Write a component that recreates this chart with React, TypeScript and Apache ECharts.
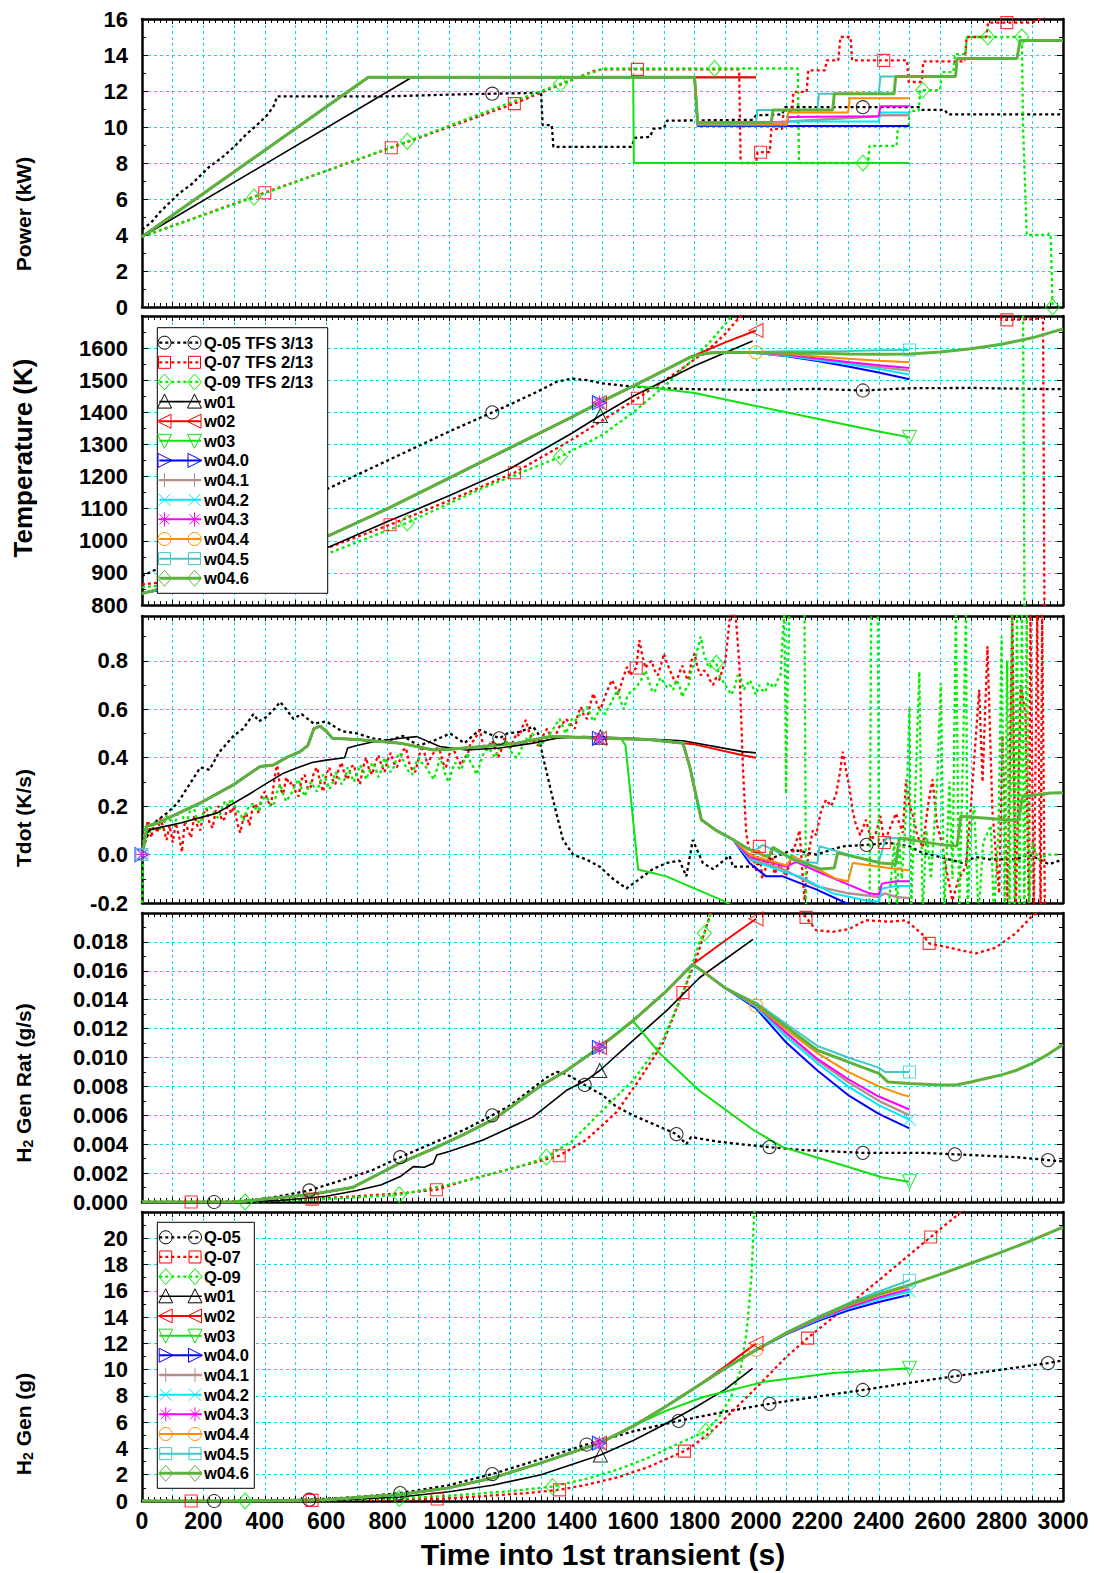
import React, { useEffect, useRef } from 'react';
import * as echarts from 'echarts';

const FONT = '"Liberation Sans", Arial, Helvetica, sans-serif';

// ---------------- series names & legend labels ----------------
const NAMES = ['Q-05', 'Q-07', 'Q-09', 'w01', 'w02', 'w03', 'w04.0', 'w04.1', 'w04.2', 'w04.3', 'w04.4', 'w04.5', 'w04.6'];
const LEGEND_TOP_LABELS = ['Q-05 TFS 3/13', 'Q-07 TFS 2/13', 'Q-09 TFS 2/13', 'w01', 'w02', 'w03', 'w04.0', 'w04.1', 'w04.2', 'w04.3', 'w04.4', 'w04.5', 'w04.6'];
const LEGEND_BOTTOM_LABELS = ['Q-05', 'Q-07', 'Q-09', 'w01', 'w02', 'w03', 'w04.0', 'w04.1', 'w04.2', 'w04.3', 'w04.4', 'w04.5', 'w04.6'];

// ---------------- x axis ----------------
const X_MIN = 0;
const X_MAX = 3000;
const X_STEP = 100;
const X_LABEL_STEP = 200;
const X_TITLE = 'Time into 1st transient (s)';

// ---------------- Panel 1: Power (kW) ----------------
const pwr_Q05 = [[0,4.3],[30,4.7],[60,5.3],[90,5.8],[120,6.3],[160,6.8],[190,7.3],[220,7.8],[260,8.3],[300,8.9],[340,9.6],[380,10.2],[410,10.7],[430,11.2],[440,11.7],[800,11.7],[1000,11.8],[1141,11.85],[1300,11.9],[1305,10.1],[1335,10.1],[1340,8.9],[1595,8.9],[1605,9.4],[1655,9.45],[1665,9.9],[1700,9.95],[1710,10.35],[1990,10.4],[2000,10.65],[2085,10.7],[2095,11.1],[2348,11.1],[2530,11.1],[2540,10.95],[2615,10.95],[2625,10.7],[3000,10.7]];
const pwr_Q07 = [[0,3.9],[400,6.35],[812,8.85],[1213,11.3],[1426,12.8],[1470,13.1],[1500,13.2],[1614,13.2],[1945,13.2],[1950,8.0],[2000,8.0],[2005,8.6],[2015,8.6],[2045,8.6],[2050,9.9],[2085,9.9],[2090,10.9],[2118,10.9],[2122,11.95],[2165,11.95],[2170,13.15],[2225,13.15],[2230,13.7],[2268,13.7],[2275,15.0],[2308,15.0],[2313,13.7],[2416,13.7],[2492,13.7],[2497,12.5],[2540,12.5],[2545,13.65],[2680,13.65],[2686,15.0],[2750,15.0],[2756,15.8],[2817,15.8],[2900,15.8],[2950,16.2]];
const pwr_Q09 = [[0,3.9],[365,6.1],[864,9.2],[1363,12.4],[1426,12.8],[1480,13.1],[1500,13.25],[1865,13.25],[2136,13.25],[2140,8.0],[2348,8.0],[2365,8.0],[2370,8.95],[2458,8.95],[2462,10.0],[2497,10.0],[2500,10.9],[2530,10.9],[2535,12.05],[2543,12.05],[2600,12.05],[2605,13.05],[2643,13.05],[2648,14.05],[2682,14.05],[2687,15.0],[2755,15.0],[2866,15.0],[2870,10.0],[2882,4.0],[2950,4.0],[2955,4.1],[2960,3.9],[2966,0]];
const pwr_w01 = [[0,3.9],[878,12.75],[2000,12.75]];
const pwr_common = [[0,3.9],[737,12.76]];
const pwr_w02_tail = [[2000,12.76]];
const pwr_w03_tail = [[1600,12.76],[1602,8.0],[2500,8.0]];
const pwr_w040_tail = [[1800,12.76],[1810,10.05],[2500,10.05]];
const pwr_w041_tail = [[1800,12.76],[1810,10.2],[2050,10.25],[2400,10.6],[2410,10.65],[2500,10.65]];
const pwr_w042_tail = [[1800,12.76],[1810,10.1],[2100,10.1],[2105,10.3],[2400,10.3],[2405,10.8],[2500,10.8]];
const pwr_w043_tail = [[1800,12.76],[1810,10.12],[2100,10.12],[2105,10.55],[2400,10.6],[2405,11.15],[2500,11.15]];
const pwr_w044_tail = [[1800,12.76],[1810,10.15],[2100,10.15],[2105,10.8],[2300,10.8],[2305,11.6],[2500,11.6]];
const pwr_w045_tail = [[1800,12.76],[1810,10.2],[2000,10.2],[2005,10.95],[2200,10.95],[2205,11.85],[2400,11.85],[2405,12.8],[2500,12.8]];
const pwr_w046_tail = [[1800,12.76],[1810,10.25],[2050,10.25],[2055,10.95],[2250,10.95],[2255,11.85],[2450,11.85],[2455,12.8],[2650,12.8],[2655,13.8],[2850,13.8],[2860,14.8],[3000,14.8]];

// ---------------- Panel 2: Temperature (K) ----------------
const tmp_Q05 = [[0,890],[100,935],[200,980],[300,1025],[400,1070],[500,1115],[600,1160],[700,1205],[800,1250],[900,1295],[1000,1340],[1141,1400],[1200,1425],[1300,1470],[1350,1495],[1400,1505],[1450,1500],[1500,1490],[1600,1480],[1700,1475],[1800,1472],[2000,1470],[2200,1473],[2348,1468],[2500,1475],[2700,1476],[2900,1473],[3000,1472]];
const tmp_Q07 = [[0,864],[150,880],[300,905],[450,940],[613,981],[808,1050],[1000,1125],[1213,1212],[1400,1315],[1614,1444],[1750,1530],[1850,1600],[1900,1645],[1950,1700],[2000,1760],[2600,1800],[2790,1720],[2800,1690],[2817,1688],[2900,1690],[2935,1695],[2940,700]];
const tmp_Q09 = [[0,855],[150,870],[300,893],[450,925],[613,963],[864,1056],[1100,1160],[1363,1262],[1500,1330],[1600,1400],[1700,1480],[1800,1570],[1850,1620],[1900,1675],[1925,1705],[2000,1780],[2860,1800],[2870,1700],[2875,700]];
const tmp_w01 = [[0,836],[200,870],[400,920],[613,982],[800,1060],[1000,1140],[1200,1225],[1400,1335],[1493,1390],[1600,1450],[1800,1545],[1989,1622]];
const tmp_common = [[0,836],[100,860],[200,890],[300,920],[400,950],[500,983],[613,1018],[800,1100],[1000,1195],[1200,1290],[1400,1385],[1490,1430],[1600,1482]];
const tmp_w02_tail = [[1700,1530],[1793,1575],[1900,1618],[2000,1655]];
const tmp_w03_tail = [[1650,1478],[1800,1460],[2000,1420],[2200,1380],[2400,1340],[2500,1322]];
const tmp_w04_mid = [[1700,1530],[1793,1575],[1850,1585],[1900,1587]];
const tmp_w040_tail = [[2000,1585],[2100,1575],[2200,1560],[2300,1543],[2400,1524],[2500,1503]];
const tmp_w041_tail = [[2000,1586],[2100,1577],[2200,1565],[2300,1553],[2400,1541],[2500,1530]];
const tmp_w042_tail = [[2000,1585],[2100,1576],[2200,1563],[2300,1550],[2400,1535],[2500,1518]];
const tmp_w043_tail = [[2000,1586],[2100,1579],[2200,1568],[2300,1557],[2400,1547],[2500,1538]];
const tmp_w044_tail = [[2000,1587],[2100,1582],[2200,1574],[2300,1567],[2400,1561],[2500,1556]];
const tmp_w045_tail = [[2000,1588],[2100,1590],[2200,1590],[2300,1591],[2400,1593],[2500,1594]];
const tmp_w046_tail = [[2000,1586],[2100,1585],[2200,1584],[2300,1582],[2400,1581],[2500,1582],[2600,1588],[2700,1598],[2800,1612],[2900,1632],[3000,1660]];

// ---------------- Panel 3: Tdot (K/s) ----------------
const tdot_Q05 = [[0,0],[10,0.05],[30,0.12],[49,0.14],[80,0.17],[114,0.21],[150,0.28],[190,0.36],[220,0.35],[250,0.42],[298,0.49],[330,0.52],[363,0.58],[380,0.55],[407,0.57],[430,0.6],[450,0.63],[470,0.6],[493,0.56],[520,0.58],[560,0.54],[600,0.55],[650,0.51],[700,0.5],[750,0.48],[800,0.47],[850,0.49],[900,0.45],[950,0.47],[1004,0.5],[1050,0.46],[1100,0.515],[1164,0.48],[1190,0.5],[1231,0.507],[1274,0.528],[1290,0.5],[1306,0.405],[1339,0.226],[1371,0.062],[1404,0.0],[1447,-0.02],[1491,-0.05],[1534,-0.1],[1578,-0.14],[1600,-0.12],[1621,-0.1],[1664,-0.06],[1708,-0.035],[1751,-0.025],[1773,-0.09],[1794,0.06],[1827,-0.035],[1860,-0.06],[1914,-0.005],[1925,-0.05],[1990,-0.05],[2033,-0.025],[2120,0.02],[2196,0.0],[2282,0.034],[2360,0.04],[2434,0.048],[2499,0.034],[2542,0.007],[2585,-0.005],[2673,-0.035],[2716,-0.01],[2759,-0.02],[2846,-0.02],[2889,0.0],[2955,-0.04],[3000,-0.02]];
const tdot_Q07 = [[0,0],[10,0.1],[20,0.14],[30,0.07],[40,0.13],[50,0.09],[60,0.15],[70,0.11],[80,0.06],[90,0.12],[100,0.05],[110,0.13],[120,0.08],[130,0.01],[140,0.14],[150,0.1],[160,0.07],[170,0.16],[180,0.12],[190,0.1],[200,0.17],[210,0.19],[220,0.13],[230,0.11],[240,0.18],[250,0.2],[260,0.14],[270,0.15],[280,0.21],[290,0.17],[300,0.2],[310,0.13],[320,0.09],[330,0.15],[340,0.17],[350,0.12],[360,0.19],[370,0.21],[380,0.17],[390,0.24],[400,0.26],[410,0.22],[420,0.2],[430,0.3],[440,0.38],[450,0.27],[460,0.25],[470,0.32],[480,0.29],[490,0.3],[500,0.26],[510,0.24],[520,0.31],[530,0.33],[540,0.27],[550,0.28],[560,0.34],[570,0.36],[580,0.3],[590,0.26],[600,0.33],[610,0.36],[620,0.31],[630,0.29],[640,0.35],[650,0.38],[660,0.33],[670,0.31],[680,0.36],[690,0.37],[700,0.32],[710,0.29],[720,0.36],[730,0.4],[740,0.35],[750,0.33],[760,0.38],[770,0.41],[780,0.37],[790,0.34],[800,0.39],[810,0.42],[820,0.38],[830,0.36],[840,0.39],[850,0.43],[860,0.44],[870,0.38],[880,0.35],[890,0.34],[900,0.39],[910,0.45],[920,0.42],[930,0.37],[940,0.4],[950,0.42],[960,0.44],[970,0.43],[980,0.38],[990,0.36],[1000,0.41],[1010,0.44],[1020,0.42],[1030,0.39],[1040,0.37],[1050,0.4],[1060,0.41],[1070,0.46],[1080,0.47],[1090,0.49],[1100,0.515],[1110,0.46],[1120,0.43],[1130,0.45],[1140,0.47],[1150,0.44],[1160,0.4],[1170,0.43],[1180,0.48],[1190,0.46],[1200,0.44],[1210,0.47],[1220,0.5],[1230,0.49],[1240,0.53],[1250,0.556],[1260,0.51],[1270,0.48],[1280,0.46],[1290,0.45],[1300,0.47],[1310,0.5],[1320,0.52],[1330,0.49],[1340,0.47],[1350,0.5],[1360,0.528],[1370,0.54],[1380,0.56],[1390,0.55],[1400,0.53],[1410,0.52],[1420,0.58],[1430,0.61],[1440,0.57],[1450,0.56],[1460,0.62],[1470,0.665],[1480,0.63],[1490,0.6],[1500,0.62],[1510,0.66],[1520,0.69],[1530,0.72],[1540,0.7],[1550,0.66],[1560,0.7],[1570,0.74],[1580,0.775],[1590,0.74],[1600,0.76],[1610,0.77],[1620,0.885],[1630,0.82],[1640,0.77],[1650,0.79],[1660,0.8],[1670,0.76],[1680,0.74],[1690,0.78],[1700,0.83],[1710,0.79],[1720,0.76],[1730,0.73],[1740,0.71],[1750,0.75],[1760,0.78],[1770,0.74],[1780,0.72],[1790,0.8],[1800,0.83],[1810,0.77],[1820,0.74],[1830,0.76],[1840,0.75],[1850,0.72],[1860,0.7],[1870,0.73],[1880,0.72],[1890,0.76],[1900,0.8],[1914,0.967],[1925,1.0],[1935,0.97],[1946,0.78],[1957,0.37],[1968,0.09],[1980,0.0],[1990,0.006],[2000,-0.07],[2011,0.034],[2020,-0.1],[2033,-0.05],[2050,0.02],[2060,-0.08],[2077,-0.04],[2098,-0.09],[2110,-0.03],[2120,0.007],[2142,0.1],[2150,-0.05],[2158,-0.19],[2170,0.0],[2185,0.1],[2196,0.08],[2212,0.18],[2228,0.226],[2245,0.2],[2261,0.25],[2275,0.35],[2282,0.425],[2293,0.35],[2304,0.28],[2315,0.18],[2326,0.12],[2340,0.08],[2358,0.144],[2375,0.06],[2391,0.09],[2405,0.16],[2418,0.05],[2440,0.12],[2456,0.17],[2478,0.09],[2489,0.31],[2500,0.2],[2510,0.17],[2525,0.08],[2543,0.03],[2560,0.2],[2575,0.31],[2590,0.12],[2605,0.05],[2618,-0.05],[2640,-0.19],[2660,-0.1],[2684,-0.05],[2700,0.2],[2714,0.45],[2727,0.68],[2738,0.3],[2754,0.86],[2770,0.18],[2792,-0.16],[2803,0.49],[2819,-0.19],[2835,1.0],[2846,-0.25],[2862,0.7],[2878,0.58],[2889,-0.25],[2894,1.0],[2905,-0.25],[2916,1.0],[2927,-0.25],[2932,1.0],[2941,-0.25]];
const tdot_Q09 = [[0,-0.25],[5,0.05],[10,0.12],[20,0.1],[30,0.09],[40,0.13],[50,0.14],[60,0.1],[70,0.12],[80,0.16],[90,0.15],[100,0.12],[110,0.14],[120,0.18],[130,0.17],[140,0.13],[150,0.15],[160,0.2],[170,0.19],[180,0.14],[190,0.13],[200,0.17],[210,0.19],[220,0.2],[230,0.185],[240,0.16],[250,0.15],[260,0.19],[270,0.22],[280,0.2],[290,0.23],[300,0.21],[310,0.18],[320,0.17],[330,0.14],[340,0.18],[350,0.2],[360,0.21],[370,0.19],[380,0.18],[390,0.22],[400,0.24],[410,0.23],[420,0.2],[430,0.21],[440,0.26],[450,0.29],[460,0.25],[470,0.22],[480,0.24],[490,0.26],[500,0.29],[510,0.31],[520,0.27],[530,0.24],[540,0.27],[550,0.3],[560,0.28],[570,0.26],[580,0.3],[590,0.33],[600,0.31],[610,0.27],[620,0.29],[630,0.34],[640,0.32],[650,0.29],[660,0.31],[670,0.36],[680,0.33],[690,0.3],[700,0.33],[710,0.37],[720,0.35],[730,0.31],[740,0.34],[750,0.38],[760,0.36],[770,0.32],[780,0.35],[790,0.4],[800,0.37],[810,0.34],[820,0.36],[830,0.4],[840,0.42],[850,0.39],[860,0.36],[870,0.34],[880,0.33],[890,0.37],[900,0.4],[910,0.38],[920,0.37],[930,0.35],[940,0.33],[950,0.31],[960,0.35],[970,0.4],[980,0.37],[990,0.32],[1000,0.3],[1010,0.35],[1020,0.38],[1030,0.36],[1040,0.35],[1050,0.39],[1060,0.42],[1070,0.38],[1080,0.36],[1090,0.33],[1100,0.37],[1110,0.41],[1120,0.43],[1130,0.44],[1140,0.42],[1150,0.4],[1160,0.43],[1170,0.45],[1180,0.47],[1190,0.46],[1200,0.43],[1210,0.41],[1220,0.4],[1230,0.42],[1240,0.45],[1250,0.48],[1260,0.47],[1270,0.5],[1280,0.49],[1290,0.46],[1300,0.45],[1310,0.47],[1320,0.48],[1330,0.5],[1340,0.52],[1350,0.54],[1360,0.56],[1370,0.53],[1380,0.5],[1390,0.53],[1400,0.56],[1410,0.55],[1420,0.57],[1430,0.58],[1440,0.6],[1450,0.61],[1460,0.58],[1470,0.55],[1480,0.57],[1490,0.6],[1500,0.59],[1510,0.58],[1520,0.61],[1530,0.63],[1540,0.66],[1550,0.68],[1560,0.63],[1570,0.6],[1580,0.65],[1590,0.67],[1600,0.68],[1610,0.69],[1620,0.71],[1630,0.73],[1640,0.76],[1650,0.72],[1660,0.68],[1670,0.67],[1680,0.71],[1690,0.73],[1700,0.71],[1710,0.69],[1720,0.7],[1730,0.68],[1740,0.72],[1750,0.7],[1760,0.65],[1770,0.68],[1780,0.7],[1790,0.76],[1800,0.8],[1810,0.85],[1820,0.9],[1830,0.83],[1840,0.79],[1850,0.77],[1860,0.8],[1871,0.79],[1880,0.74],[1890,0.72],[1900,0.7],[1910,0.68],[1920,0.66],[1930,0.69],[1940,0.74],[1950,0.73],[1960,0.68],[1970,0.7],[1980,0.72],[1990,0.69],[2000,0.66],[2010,0.7],[2020,0.68],[2030,0.67],[2040,0.71],[2050,0.7],[2060,0.69],[2070,0.72],[2080,0.74],[2087,0.9],[2092,1.0],[2096,0.6],[2098,0.25],[2103,0.7],[2109,1.0],[2140,1.0],[2158,1.0],[2163,-0.25],[2370,-0.25],[2375,1.0],[2397,1.0],[2401,-0.25],[2430,-0.25],[2440,-0.1],[2450,0.05],[2460,-0.25],[2465,0.09],[2475,-0.1],[2490,0.2],[2500,0.61],[2505,-0.25],[2520,0.3],[2532,0.755],[2543,-0.25],[2555,0.1],[2570,-0.1],[2590,0.3],[2602,0.707],[2613,-0.25],[2630,0.3],[2640,-0.1],[2651,1.0],[2662,-0.25],[2672,0.3],[2684,1.0],[2689,-0.25],[2700,0.1],[2711,0.2],[2725,-0.25],[2740,0.05],[2765,0.12],[2775,-0.25],[2790,0.1],[2800,0.9],[2810,-0.25],[2818,0.8],[2826,-0.25],[2834,1.0],[2842,-0.25],[2850,1.0],[2858,-0.25],[2866,1.0],[2874,-0.25],[2882,1.0],[2890,-0.2],[2900,0.05],[2920,-0.02],[2950,0.0],[2990,0.0]];
const tdot_w01 = [[0,0],[10,0.08],[27,0.103],[125,0.13],[244,0.171],[350,0.25],[407,0.295],[461,0.336],[504,0.357],[554,0.38],[600,0.39],[660,0.4],[670,0.44],[700,0.45],[750,0.465],[841,0.48],[895,0.487],[970,0.446],[1057,0.432],[1166,0.44],[1274,0.46],[1350,0.48],[1437,0.487],[1493,0.485],[1600,0.48],[1762,0.47],[1957,0.425],[2000,0.42]];
const tdot_common = [[0,0],[8,0.05],[16,0.117],[50,0.13],[100,0.16],[190,0.213],[300,0.29],[385,0.364],[428,0.37],[470,0.4],[515,0.425],[540,0.45],[560,0.52],[580,0.53],[600,0.51],[620,0.48],[700,0.475],[841,0.46],[949,0.432],[1000,0.435],[1111,0.446],[1220,0.46],[1328,0.487],[1400,0.485],[1490,0.48],[1561,0.478]];
const tdot_w02_tail = [[1650,0.475],[1762,0.46],[1800,0.455],[1957,0.41],[2000,0.4]];
const tdot_w03_tail = [[1575,0.45],[1616,-0.062],[1708,-0.09],[1892,-0.19],[1950,-0.23],[2500,-0.4]];
const tdot_w04_mid = [[1650,0.475],[1762,0.46],[1784,0.364],[1822,0.144],[1870,0.1],[1925,0.062]];
const tdot_w040_tail = [[1979,-0.035],[2033,-0.09],[2087,-0.09],[2196,-0.144],[2293,-0.2],[2400,-0.25],[2500,-0.28]];
const tdot_w041_tail = [[1979,-0.015],[2087,-0.06],[2196,-0.13],[2300,-0.16],[2369,-0.17],[2400,-0.175],[2420,-0.16],[2456,-0.175],[2500,-0.18]];
const tdot_w042_tail = [[1979,-0.02],[2087,-0.07],[2100,-0.075],[2142,-0.09],[2250,-0.16],[2358,-0.19],[2400,-0.195],[2410,-0.14],[2456,-0.13],[2500,-0.13]];
const tdot_w043_tail = [[1979,-0.01],[2087,-0.045],[2100,-0.05],[2130,-0.03],[2200,-0.07],[2369,-0.16],[2400,-0.165],[2410,-0.12],[2456,-0.11],[2500,-0.11]];
const tdot_w044_tail = [[1979,0.0],[2000,-0.01],[2087,-0.04],[2100,-0.045],[2120,-0.005],[2261,-0.1],[2300,-0.11],[2315,-0.035],[2456,-0.06],[2500,-0.065]];
const tdot_w045_tail = [[1979,0.02],[2000,0.02],[2022,0.04],[2087,0.0],[2152,-0.03],[2200,-0.035],[2207,0.034],[2369,-0.025],[2400,-0.03],[2423,0.068],[2500,0.066]];
const tdot_w046_tail = [[1979,0.02],[2033,-0.007],[2044,-0.005],[2055,0.03],[2120,-0.02],[2212,-0.06],[2255,-0.055],[2266,0.007],[2407,-0.035],[2455,-0.04],[2467,0.068],[2608,0.04],[2655,0.035],[2667,0.158],[2814,0.144],[2855,0.14],[2868,0.24],[2960,0.254],[3000,0.255]];

// ---------------- Panel 4: H2 generation rate (g/s) ----------------
const rate_Q05 = [[0,0],[235,0],[350,0.0001],[450,0.0004],[545,0.0008],[650,0.0015],[750,0.0022],[841,0.0031],[950,0.0041],[1050,0.005],[1141,0.006],[1200,0.0067],[1250,0.0075],[1317,0.0086],[1350,0.009],[1375,0.0089],[1404,0.0086],[1442,0.0081],[1500,0.0074],[1545,0.0066],[1600,0.006],[1665,0.0054],[1741,0.0047],[1773,0.004],[1789,0.0045],[1870,0.0042],[1950,0.004],[2044,0.0038],[2150,0.0036],[2250,0.0035],[2348,0.0034],[2450,0.0034],[2550,0.0034],[2648,0.0033],[2750,0.0032],[2850,0.0031],[2951,0.0029],[3000,0.0028]];
const rate_Q07 = [[0,0],[160,0],[400,0.0001],[554,0.0002],[700,0.0004],[841,0.0006],[959,0.00085],[1057,0.0015],[1220,0.0024],[1359,0.0032],[1447,0.0043],[1545,0.0062],[1621,0.0085],[1697,0.011],[1762,0.0145],[1800,0.0165],[1830,0.0185],[1860,0.0205],[1900,0.022],[2100,0.022],[2152,0.0199],[2163,0.0197],[2196,0.0188],[2250,0.0187],[2304,0.0189],[2358,0.0195],[2434,0.0194],[2488,0.0195],[2543,0.0185],[2564,0.0179],[2586,0.0178],[2629,0.0176],[2716,0.0172],[2781,0.0176],[2846,0.0186],[2900,0.0198],[2950,0.0205]];
const rate_Q09 = [[0,0],[336,0],[600,0.0002],[838,0.0005],[1000,0.0012],[1150,0.002],[1250,0.0026],[1317,0.0031],[1400,0.0042],[1512,0.0066],[1599,0.0084],[1697,0.0112],[1773,0.0151],[1816,0.018],[1832,0.0186],[1860,0.0205],[1880,0.023]];
const rate_w01 = [[0,0],[300,0],[450,0.0001],[600,0.0004],[700,0.0008],[780,0.0012],[841,0.00176],[884,0.00245],[920,0.0024],[949,0.00268],[960,0.00325],[1000,0.0035],[1111,0.00429],[1274,0.00589],[1383,0.00773],[1447,0.00842],[1491,0.0091],[1599,0.01117],[1708,0.01323],[1816,0.01552],[1990,0.01817]];
const rate_common = [[0,0],[300,0],[400,0.0002],[545,0.0005],[685,0.001],[841,0.0027],[950,0.0037],[1050,0.0047],[1144,0.0057],[1296,0.008],[1383,0.0091],[1490,0.0107],[1599,0.01254]];
const rate_w02_tail = [[1708,0.0146],[1794,0.01645],[1900,0.0181],[2000,0.0196]];
const rate_w03_tail = [[1686,0.0103],[1816,0.0077],[1990,0.005],[2087,0.0038],[2196,0.0031],[2304,0.0024],[2412,0.0017],[2500,0.0014]];
const rate_w04_mid = [[1708,0.0146],[1794,0.01645],[1850,0.0156],[1900,0.0148]];
const rate_w040_tail = [[2000,0.0134],[2100,0.011],[2200,0.0091],[2300,0.0074],[2400,0.0061],[2500,0.0051]];
const rate_w041_tail = [[2000,0.0136],[2100,0.0116],[2200,0.0098],[2300,0.0083],[2400,0.007],[2500,0.006]];
const rate_w042_tail = [[2000,0.0135],[2100,0.0114],[2200,0.0096],[2300,0.008],[2400,0.0067],[2500,0.0057]];
const rate_w043_tail = [[2000,0.0136],[2100,0.0117],[2200,0.0099],[2300,0.0085],[2400,0.0073],[2500,0.0064]];
const rate_w044_tail = [[2000,0.0136],[2100,0.0119],[2200,0.0103],[2300,0.009],[2400,0.008],[2480,0.0074],[2500,0.0073]];
const rate_w045_tail = [[2000,0.0138],[2100,0.0123],[2200,0.0108],[2300,0.01],[2400,0.0093],[2420,0.009],[2500,0.009]];
const rate_w046_tail = [[2000,0.0137],[2100,0.0121],[2200,0.0105],[2300,0.0097],[2400,0.0089],[2430,0.0083],[2500,0.0082],[2600,0.0081],[2651,0.0081],[2700,0.0083],[2759,0.0086],[2800,0.0088],[2846,0.0091],[2900,0.0096],[2950,0.0102],[3000,0.0109]];

// ---------------- Panel 5: H2 generated (g) ----------------
const gen_Q05 = [[0,0],[235,0],[400,0.02],[545,0.1],[700,0.3],[841,0.6],[1000,1.2],[1141,2.05],[1300,3.2],[1448,4.3],[1600,5.3],[1748,6.1],[1900,6.8],[2044,7.4],[2200,7.95],[2348,8.45],[2500,9.0],[2648,9.5],[2800,10.0],[2951,10.5],[3000,10.7]];
const gen_Q07 = [[0,0],[160,0],[554,0.05],[800,0.1],[962,0.15],[1100,0.35],[1250,0.6],[1360,0.85],[1450,1.25],[1550,1.8],[1650,2.6],[1767,3.8],[1800,4.3],[1830,4.85],[1860,5.4],[1900,6.3],[2000,8.6],[2100,11.0],[2168,12.4],[2300,14.9],[2400,16.8],[2500,18.75],[2569,20.1],[2600,20.7],[2700,22.6]];
const gen_Q09 = [[0,0],[336,0],[600,0.05],[838,0.2],[1000,0.4],[1200,0.75],[1337,1.1],[1450,1.7],[1550,2.4],[1650,3.3],[1750,4.4],[1836,5.3],[1880,6.4],[1920,8.0],[1950,10.0],[1970,13.0],[1985,17.0],[1995,22.5]];
const gen_w01 = [[0,0],[450,0],[600,0.05],[841,0.3],[1000,0.7],[1141,1.2],[1300,2.0],[1493,3.5],[1600,4.6],[1700,5.8],[1800,7.1],[1900,8.5],[1989,10.1]];
const gen_common = [[0,0],[300,0],[450,0.03],[600,0.1],[841,0.5],[1000,1.0],[1141,1.75],[1300,2.9],[1490,4.4],[1600,5.7]];
const gen_w02_tail = [[1700,7.1],[1800,8.6],[1900,10.25],[2000,12.0]];
const gen_w03_tail = [[1700,6.8],[1826,7.9],[2022,9.05],[2250,9.75],[2500,10.1]];
const gen_w04_mid = [[1700,7.1],[1800,8.6],[1900,10.1]];
const gen_w040_tail = [[2000,11.5],[2100,12.7],[2200,13.7],[2300,14.5],[2400,15.15],[2500,15.7]];
const gen_w041_tail = [[2000,11.5],[2100,12.75],[2200,13.8],[2300,14.7],[2400,15.45],[2500,16.05]];
const gen_w042_tail = [[2000,11.5],[2100,12.75],[2200,13.8],[2300,14.65],[2400,15.35],[2500,15.95]];
const gen_w043_tail = [[2000,11.5],[2100,12.75],[2200,13.85],[2300,14.75],[2400,15.5],[2500,16.15]];
const gen_w044_tail = [[2000,11.5],[2100,12.8],[2200,13.9],[2300,14.85],[2400,15.65],[2500,16.35]];
const gen_w045_tail = [[2000,11.5],[2100,12.85],[2200,14.0],[2300,15.05],[2400,15.95],[2500,16.8]];
const gen_w046_tail = [[2000,11.5],[2100,12.8],[2200,13.95],[2300,14.95],[2400,15.75],[2500,16.45],[2600,17.25],[2700,18.1],[2800,18.95],[2900,19.85],[3000,20.85]];

// ---------------- marker positions (x values of data points carrying a symbol) ----------------
const MODEL_MARKS = { 'w01': [1493], 'w02': [1490, 2000], 'w03': [2500], 'w04.0': [1490], 'w04.1': [1490], 'w04.2': [1490, 2500], 'w04.3': [1490], 'w04.4': [2000], 'w04.5': [2500] };
const p1Marks = { 'Q-05': [1141, 2348], 'Q-07': [400, 812, 1213, 1614, 2015, 2416, 2817], 'Q-09': [365, 864, 1363, 1865, 2348, 2543, 2755, 2866, 2966] };
const p2Marks = { 'Q-05': [1141, 2348], 'Q-07': [808, 1213, 1614, 2817], 'Q-09': [864, 1363], 'w01': [1493], 'w02': [1490, 2000], 'w03': [2500], 'w04.0': [1490], 'w04.1': [1490], 'w04.2': [1490], 'w04.3': [1490], 'w04.4': [2000], 'w04.5': [2500] };
const p3Marks = { 'Q-05': [1164, 2360], 'Q-07': [1610, 2011, 2418], 'Q-09': [1871], 'w01': [1493], 'w02': [1490], 'w04.0': [0, 1490], 'w04.1': [0, 1490], 'w04.2': [0, 1490], 'w04.3': [0, 1490], 'w04.4': [2000], 'w04.5': [0] };
const p4Marks = { 'Q-05': [235, 545, 841, 1141, 1442, 1741, 2044, 2348, 2648, 2951], 'Q-07': [160, 554, 959, 1359, 1762, 2163, 2564], 'Q-09': [336, 838, 1317, 1832], ...MODEL_MARKS };
const p5Marks = { 'Q-05': [235, 545, 841, 1141, 1448, 1748, 2044, 2348, 2648, 2951], 'Q-07': [160, 554, 962, 1360, 1767, 2168, 2569], 'Q-09': [336, 838, 1337, 1836], ...MODEL_MARKS };

// ---------------- assemble per-panel data ----------------
const cat = (...parts) => parts.reduce((a, b) => a.concat(b), []);
const P1 = { 'Q-05': pwr_Q05, 'Q-07': pwr_Q07, 'Q-09': pwr_Q09, 'w01': pwr_w01, 'w02': cat(pwr_common, pwr_w02_tail), 'w03': cat(pwr_common, pwr_w03_tail), 'w04.0': cat(pwr_common, pwr_w040_tail), 'w04.1': cat(pwr_common, pwr_w041_tail), 'w04.2': cat(pwr_common, pwr_w042_tail), 'w04.3': cat(pwr_common, pwr_w043_tail), 'w04.4': cat(pwr_common, pwr_w044_tail), 'w04.5': cat(pwr_common, pwr_w045_tail), 'w04.6': cat(pwr_common, pwr_w046_tail) };
const P2 = { 'Q-05': tmp_Q05, 'Q-07': tmp_Q07, 'Q-09': tmp_Q09, 'w01': tmp_w01, 'w02': cat(tmp_common, tmp_w02_tail), 'w03': cat(tmp_common, tmp_w03_tail), 'w04.0': cat(tmp_common, tmp_w04_mid, tmp_w040_tail), 'w04.1': cat(tmp_common, tmp_w04_mid, tmp_w041_tail), 'w04.2': cat(tmp_common, tmp_w04_mid, tmp_w042_tail), 'w04.3': cat(tmp_common, tmp_w04_mid, tmp_w043_tail), 'w04.4': cat(tmp_common, tmp_w04_mid, tmp_w044_tail), 'w04.5': cat(tmp_common, tmp_w04_mid, tmp_w045_tail), 'w04.6': cat(tmp_common, tmp_w04_mid, tmp_w046_tail) };
const P3 = { 'Q-05': tdot_Q05, 'Q-07': tdot_Q07, 'Q-09': tdot_Q09, 'w01': tdot_w01, 'w02': cat(tdot_common, tdot_w02_tail), 'w03': cat(tdot_common, tdot_w03_tail), 'w04.0': cat(tdot_common, tdot_w04_mid, tdot_w040_tail), 'w04.1': cat(tdot_common, tdot_w04_mid, tdot_w041_tail), 'w04.2': cat(tdot_common, tdot_w04_mid, tdot_w042_tail), 'w04.3': cat(tdot_common, tdot_w04_mid, tdot_w043_tail), 'w04.4': cat(tdot_common, tdot_w04_mid, tdot_w044_tail), 'w04.5': cat(tdot_common, tdot_w04_mid, tdot_w045_tail), 'w04.6': cat(tdot_common, tdot_w04_mid, tdot_w046_tail) };
const P4 = { 'Q-05': rate_Q05, 'Q-07': rate_Q07, 'Q-09': rate_Q09, 'w01': rate_w01, 'w02': cat(rate_common, rate_w02_tail), 'w03': cat(rate_common, rate_w03_tail), 'w04.0': cat(rate_common, rate_w04_mid, rate_w040_tail), 'w04.1': cat(rate_common, rate_w04_mid, rate_w041_tail), 'w04.2': cat(rate_common, rate_w04_mid, rate_w042_tail), 'w04.3': cat(rate_common, rate_w04_mid, rate_w043_tail), 'w04.4': cat(rate_common, rate_w04_mid, rate_w044_tail), 'w04.5': cat(rate_common, rate_w04_mid, rate_w045_tail), 'w04.6': cat(rate_common, rate_w04_mid, rate_w046_tail) };
const P5 = { 'Q-05': gen_Q05, 'Q-07': gen_Q07, 'Q-09': gen_Q09, 'w01': gen_w01, 'w02': cat(gen_common, gen_w02_tail), 'w03': cat(gen_common, gen_w03_tail), 'w04.0': cat(gen_common, gen_w04_mid, gen_w040_tail), 'w04.1': cat(gen_common, gen_w04_mid, gen_w041_tail), 'w04.2': cat(gen_common, gen_w04_mid, gen_w042_tail), 'w04.3': cat(gen_common, gen_w04_mid, gen_w043_tail), 'w04.4': cat(gen_common, gen_w04_mid, gen_w044_tail), 'w04.5': cat(gen_common, gen_w04_mid, gen_w045_tail), 'w04.6': cat(gen_common, gen_w04_mid, gen_w046_tail) };

const PANELS = [
  { title: 'Power (kW)', min: 0, max: 16, step: 2, dec: 0, hideMax: false, data: P1, marks: p1Marks },
  { title: 'Temperature (K)', min: 800, max: 1700, step: 100, dec: 0, hideMax: true, data: P2, marks: p2Marks },
  { title: 'Tdot (K/s)', min: -0.2, max: 0.985, step: 0.2, dec: 1, hideMax: true, data: P3, marks: p3Marks },
  { title: '{a|H}{s|2}{a| Gen Rat (g/s)}', min: 0, max: 0.02, step: 0.002, dec: 3, hideMax: true, data: P4, marks: p4Marks },
  { title: '{a|H}{s|2}{a| Gen (g)}', min: 0, max: 22, step: 2, dec: 0, hideMax: true, data: P5, marks: p5Marks },
];

// ---------------- layout & styles ----------------
const W = 1094, H = 1573;
const GRID_LEFT = 142, GRID_WIDTH = 921;
const GRID_TOPS = [19, 316, 616, 913, 1212];
const GRID_HEIGHTS = [288, 289, 287, 289, 289];
const TITLE_X = 23;
const TITLE_Y = [214, 458, 818, 1083, 1424];
const TITLE_SIZE = [21, 26, 21, 21, 21];
const GRIDLINE = '#00e0ee';
const LEGEND_FONT = 16.5;

const STYLES = {
  'Q-05': { color: '#000000', width: 2.3, dash: [3, 3], sym: 'circle' },
  'Q-07': { color: '#ff0000', width: 2.3, dash: [3, 3], sym: 'rect' },
  'Q-09': { color: '#00ee00', width: 2.3, dash: [3, 3], sym: 'diamond' },
  'w01': { color: '#000000', width: 1.6, dash: null, sym: 'triUp' },
  'w02': { color: '#ff0000', width: 2, dash: null, sym: 'triLeft' },
  'w03': { color: '#11e011', width: 2, dash: null, sym: 'triDown' },
  'w04.0': { color: '#0000ff', width: 2, dash: null, sym: 'triRight' },
  'w04.1': { color: '#b98d8d', width: 2.4, dash: null, sym: 'plus' },
  'w04.2': { color: '#00e6ff', width: 2, dash: null, sym: 'cross' },
  'w04.3': { color: '#ff00ff', width: 2, dash: null, sym: 'star' },
  'w04.4': { color: '#ff8c00', width: 2, dash: null, sym: 'circle' },
  'w04.5': { color: '#40c8c8', width: 2, dash: null, sym: 'rect' },
  'w04.6': { color: '#5cb23c', width: 3, dash: null, sym: 'diamond' },
};

const ECH_SYMBOL = {
  circle: { symbol: 'circle', size: 13, rotate: 0 },
  rect: { symbol: 'rect', size: 12, rotate: 0 },
  diamond: { symbol: 'diamond', size: [14, 16], rotate: 0 },
  triUp: { symbol: 'triangle', size: [14, 14], rotate: 0 },
  triLeft: { symbol: 'triangle', size: [14, 14], rotate: 90 },
  triDown: { symbol: 'triangle', size: [14, 14], rotate: 180 },
  triRight: { symbol: 'triangle', size: [14, 14], rotate: -90 },
  plus: { symbol: 'path://M5,0L5,10M0,5L10,5', size: 14, rotate: 0 },
  cross: { symbol: 'path://M0,0L10,10M10,0L0,10', size: 12, rotate: 0 },
  star: { symbol: 'path://M5,0L5,10M0,5L10,5M1.5,1.5L8.5,8.5M8.5,1.5L1.5,8.5', size: 14, rotate: 0 },
};

function nearest(pts, x) {
  let best = pts[0];
  for (const p of pts) if (Math.abs(p[0] - x) < Math.abs(best[0] - x)) best = p;
  return [best[0], best[1]];
}

function symbolElems(kind, cx, cy, color) {
  const st = { fill: 'none', stroke: color, lineWidth: 1 };
  const z = 102;
  switch (kind) {
    case 'circle': return [{ type: 'circle', z, shape: { cx, cy, r: 6.5 }, style: st }];
    case 'rect': return [{ type: 'rect', z, shape: { x: cx - 6, y: cy - 6, width: 12, height: 12 }, style: st }];
    case 'diamond': return [{ type: 'polygon', z, shape: { points: [[cx, cy - 8], [cx + 7, cy], [cx, cy + 8], [cx - 7, cy]] }, style: st }];
    case 'triUp': return [{ type: 'polygon', z, shape: { points: [[cx, cy - 7.5], [cx + 7, cy + 6.5], [cx - 7, cy + 6.5]] }, style: st }];
    case 'triLeft': return [{ type: 'polygon', z, shape: { points: [[cx - 7.5, cy], [cx + 6.5, cy - 7], [cx + 6.5, cy + 7]] }, style: st }];
    case 'triDown': return [{ type: 'polygon', z, shape: { points: [[cx - 7, cy - 6.5], [cx + 7, cy - 6.5], [cx, cy + 7.5]] }, style: st }];
    case 'triRight': return [{ type: 'polygon', z, shape: { points: [[cx + 7.5, cy], [cx - 6.5, cy - 7], [cx - 6.5, cy + 7]] }, style: st }];
    case 'plus': return [
      { type: 'line', z, shape: { x1: cx, y1: cy - 7, x2: cx, y2: cy + 7 }, style: st },
      { type: 'line', z, shape: { x1: cx - 7, y1: cy, x2: cx + 7, y2: cy }, style: st }];
    case 'cross': return [
      { type: 'line', z, shape: { x1: cx - 6, y1: cy - 6, x2: cx + 6, y2: cy + 6 }, style: st },
      { type: 'line', z, shape: { x1: cx + 6, y1: cy - 6, x2: cx - 6, y2: cy + 6 }, style: st }];
    case 'star': return [
      { type: 'line', z, shape: { x1: cx, y1: cy - 7, x2: cx, y2: cy + 7 }, style: st },
      { type: 'line', z, shape: { x1: cx - 7, y1: cy, x2: cx + 7, y2: cy }, style: st },
      { type: 'line', z, shape: { x1: cx - 5, y1: cy - 5, x2: cx + 5, y2: cy + 5 }, style: st },
      { type: 'line', z, shape: { x1: cx + 5, y1: cy - 5, x2: cx - 5, y2: cy + 5 }, style: st }];
    default: return [];
  }
}

function legendElems(box, firstY, dy, lx1, lx2, m1, m2, tx, labels) {
  const els = [{ type: 'rect', z: 100, shape: { x: box[0], y: box[1], width: box[2], height: box[3] }, style: { fill: '#ffffff', stroke: '#000000', lineWidth: 1 } }];
  NAMES.forEach((n, i) => {
    const y = firstY + i * dy;
    const st = STYLES[n];
    const ls = { stroke: st.color, lineWidth: st.width };
    if (st.dash) ls.lineDash = st.dash;
    els.push({ type: 'line', z: 101, shape: { x1: lx1, y1: y, x2: lx2, y2: y }, style: ls });
    els.push(...symbolElems(st.sym, m1, y, st.color));
    els.push(...symbolElems(st.sym, m2, y, st.color));
    els.push({ type: 'text', z: 103, x: tx, y, style: { text: labels[i], fill: '#000', fontSize: LEGEND_FONT, fontWeight: 'bold', fontFamily: FONT, align: 'left', verticalAlign: 'middle' } });
  });
  return els;
}

function fmt(v, dec) {
  const x = Math.abs(v) < 1e-9 ? 0 : v;
  return x.toFixed(dec);
}

function buildOption() {
  const grid = [], xAxis = [], yAxis = [], series = [];
  const tickLine = { color: '#000', width: 1 };
  const axisLine = { show: true, onZero: false, lineStyle: { color: '#000', width: 2.5 } };
  PANELS.forEach((p, i) => {
    grid.push({ left: GRID_LEFT, width: GRID_WIDTH, top: GRID_TOPS[i], height: GRID_HEIGHTS[i] });
    const isBottom = i === PANELS.length - 1;
    const xCommon = {
      type: 'value', gridIndex: i, min: X_MIN, max: X_MAX, interval: X_STEP,
      axisLine, axisTick: { show: true, inside: true, length: 5, lineStyle: tickLine },
      minorTick: { show: true, splitNumber: 5, length: 4, lineStyle: tickLine },
    };
    xAxis.push({
      ...xCommon, position: 'bottom',
      splitLine: { show: true, lineStyle: { color: GRIDLINE, width: 1, type: [3, 3] } },
      axisLabel: {
        show: isBottom, margin: 8, color: '#000', fontSize: 23, fontWeight: 'bold', fontFamily: FONT,
        formatter: (v) => (Math.round(v) % X_LABEL_STEP === 0 ? String(Math.round(v)) : ''),
      },
    });
    xAxis.push({ ...xCommon, position: 'top', splitLine: { show: false }, axisLabel: { show: false } });
    const yCommon = {
      type: 'value', gridIndex: i, min: p.min, max: p.max, interval: p.step,
      axisLine, axisTick: { show: true, inside: true, length: 6, lineStyle: tickLine },
      minorTick: { show: true, splitNumber: 2, length: 4, lineStyle: tickLine },
    };
    yAxis.push({
      ...yCommon, position: 'left',
      splitLine: { show: true, lineStyle: { color: GRIDLINE, width: 1, type: [3, 3] } },
      axisLabel: {
        show: true, margin: 14, color: '#000', fontSize: 22, fontWeight: 'bold', fontFamily: FONT,
        showMaxLabel: !p.hideMax, showMinLabel: true, formatter: (v) => fmt(v, p.dec),
      },
    });
    yAxis.push({ ...yCommon, position: 'right', splitLine: { show: false }, axisLabel: { show: false } });

    NAMES.forEach((n) => {
      const pts = p.data[n];
      if (!pts) return;
      const st = STYLES[n];
      series.push({
        type: 'line', name: n + ' ' + i, xAxisIndex: i * 2, yAxisIndex: i * 2, data: pts,
        symbol: 'none', showSymbol: false, silent: true, clip: true, animation: false,
        lineStyle: { color: st.color, width: st.width, type: st.dash ? st.dash : 'solid' },
        itemStyle: { color: st.color }, z: 2,
      });
      const mx = p.marks[n];
      if (mx && mx.length) {
        const sd = ECH_SYMBOL[st.sym];
        series.push({
          type: 'scatter', name: n + ' marks ' + i, xAxisIndex: i * 2, yAxisIndex: i * 2,
          data: mx.map((x) => nearest(pts, x)), symbol: sd.symbol, symbolSize: sd.size, symbolRotate: sd.rotate,
          silent: true, clip: false, animation: false, z: 3,
          itemStyle: { color: 'rgba(0,0,0,0)', borderColor: st.color, borderWidth: 1.1 },
        });
      }
    });
  });

  const graphic = [];
  PANELS.forEach((p, i) => {
    const fs = TITLE_SIZE[i];
    const titleRich = {
      a: { fontSize: fs, fontWeight: 'bold', fontFamily: FONT, fill: '#000' },
      s: { fontSize: Math.round(fs * 0.67), fontWeight: 'bold', fontFamily: FONT, fill: '#000', padding: [Math.round(fs * 0.48), 0, 0, 0] },
    };
    graphic.push({
      type: 'text', z: 110, x: TITLE_X, y: TITLE_Y[i], rotation: Math.PI / 2,
      style: { text: p.title, fill: '#000', fontSize: fs, fontWeight: 'bold', fontFamily: FONT, align: 'center', verticalAlign: 'middle', rich: titleRich },
    });
  });
  graphic.push({
    type: 'text', z: 110, x: 603, y: 1554,
    style: { text: X_TITLE, fill: '#000', fontSize: 30, fontWeight: 'bold', fontFamily: FONT, align: 'center', verticalAlign: 'middle' },
  });
  graphic.push(...legendElems([157.3, 327.7, 170.4, 265.6], 342.7, 19.63, 159.3, 201, 164.5, 194.5, 204, LEGEND_TOP_LABELS));
  graphic.push(...legendElems([157.3, 1222.3, 97, 266], 1237.3, 19.67, 159.3, 201.7, 165.7, 195, 204, LEGEND_BOTTOM_LABELS));

  return { animation: false, backgroundColor: '#ffffff', grid, xAxis, yAxis, series, graphic };
}

export default function App() {
  const ref = useRef(null);
  useEffect(() => {
    const chart = echarts.init(ref.current, null, { renderer: 'svg' });
    chart.setOption(buildOption());
    return () => chart.dispose();
  }, []);
  return <div ref={ref} style={{ position: 'fixed', left: 0, top: 0, width: W, height: H, background: '#fff' }} />;
}
